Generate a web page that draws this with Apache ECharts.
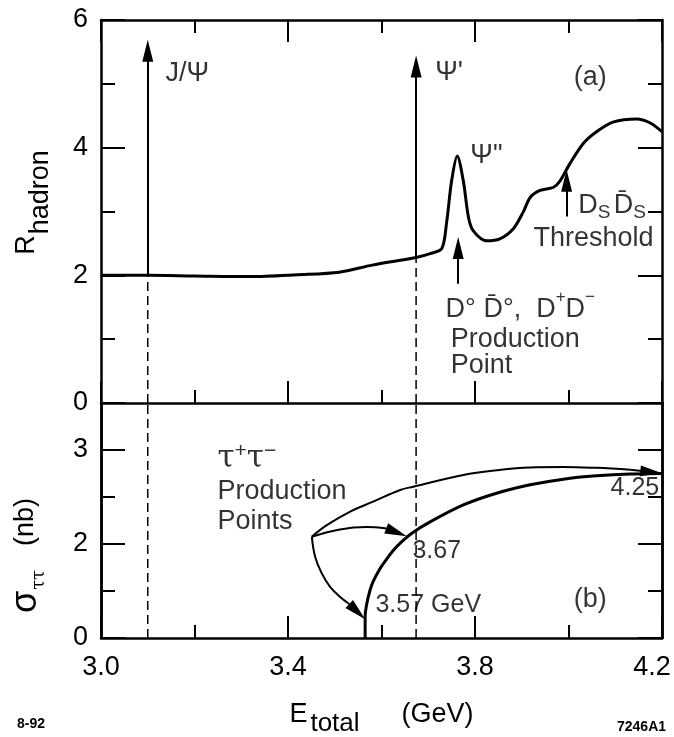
<!DOCTYPE html>
<html>
<head>
<meta charset="UTF-8">
<title>R hadron and tau pair cross section</title>
<script src="https://cdn.jsdelivr.net/npm/echarts@6/dist/echarts.min.js"></script>
</head>
<body style="margin:0;background:#fff">
<div id="chart" style="width:674px;height:737px"></div>
<script>
// panel (a): R_hadron against E_total
var rEnergy = [3.00, 3.10, 3.20, 3.32, 3.42, 3.51, 3.58, 3.674, 3.704, 3.729, 3.739, 3.750, 3.762, 3.775, 3.786, 3.796, 3.825, 3.853, 3.882, 3.903, 3.918, 3.939, 3.968, 3.982, 4.003, 4.032, 4.060, 4.095, 4.146, 4.174, 4.200];
var rValue = [2.00, 2.00, 1.99, 1.98, 2.01, 2.05, 2.16, 2.28, 2.34, 2.42, 2.81, 3.48, 3.87, 3.48, 2.91, 2.70, 2.54, 2.57, 2.73, 2.99, 3.22, 3.33, 3.38, 3.48, 3.75, 4.07, 4.25, 4.40, 4.45, 4.39, 4.25];

// panel (b): tau pair cross section (nb)
var sigmaEnergy = [3.565, 3.565, 3.568, 3.575, 3.582, 3.597, 3.611, 3.625, 3.640, 3.665, 3.704, 3.775, 3.846, 3.918, 3.989, 4.060, 4.132, 4.200];
var sigmaValue = [0.00, 0.45, 0.70, 1.00, 1.20, 1.48, 1.68, 1.86, 2.02, 2.23, 2.47, 2.83, 3.08, 3.26, 3.38, 3.45, 3.49, 3.50];

// curved pointers from the "Production Points" label
var upperArcX = [3.451, 3.483, 3.533, 3.582, 3.640, 3.668, 3.775, 3.846, 3.918, 3.989, 4.060, 4.132];
var upperArcY = [2.155, 2.40, 2.69, 2.90, 3.15, 3.22, 3.47, 3.57, 3.63, 3.64, 3.62, 3.58];
var middleArcX = [3.451, 3.511, 3.568, 3.611];
var middleArcY = [2.155, 2.31, 2.36, 2.33];
var lowerArcX = [3.451, 3.458, 3.472, 3.490, 3.511, 3.529];
var lowerArcY = [2.155, 1.73, 1.38, 1.09, 0.88, 0.74];
// centres of the arrow heads on the three pointers (4.25, 3.67, 3.57 GeV)
var arcHeadX = [4.177, 3.632, 3.548];
var arcHeadY = [3.53, 2.25, 0.56];

// vertical arrows in (a): x, foot, centre of arrow head
var arrowX = [3.100, 3.674, 3.764, 3.996];
var arrowFoot = [2.00, 2.28, 1.87, 2.92];
var arrowHead = [5.52, 5.27, 2.43, 3.48];

// dashed markers: x, height where they leave the curve in (a)
var dashX = [3.100, 3.674];
var dashTopA = [2.00, 2.28];

// tick labels
var xTickValues = [3.0, 3.4, 3.8, 4.2];
var xTickLabels = ['3.0', '3.4', '3.8', '4.2'];
var rTickValues = [0, 2, 4, 6];
var rTickLabels = ['0', '2', '4', '6'];
var sigmaTickValues = [0, 2, 4];
var sigmaTickLabels = ['0', '2', '3'];

// text in the panels
var textA = ['{n|J/Ψ}', "{n|Ψ'}", '{n|(a)}', '{n|Ψ"}', '{n|D° D\u0304°,  D}{sp|+}{n|D}{sp|\u2212}', '{n|Production}', '{n|Point}', '{n|D}{sb|S} {n|D\u0304}{sb|S}', '{n|Threshold}'];
var textAX = [3.137, 3.714, 4.010, 3.789, 3.736, 3.747, 3.747, 4.020, 3.924];
var textAY = [5.16, 5.18, 5.10, 3.87, 1.46, 1.00, 0.58, 3.09, 2.57];
var textB = ['{t|τ}{st|+}{t|τ}{st|\u2212}', '{n|Production}', '{n|Points}', '{m|4.25}', '{m|3.67}', '{m|3.57 GeV}', '{n|(b)}'];
var textBX = [3.248, 3.248, 3.248, 4.089, 3.665, 3.586, 4.010];
var textBY = [3.74, 3.11, 2.47, 3.18, 1.85, 0.70, 0.82];

var ink = '#000';
var FONT = 'Liberation Sans';
var headPath = 'path://M0 0L5.5 22L-5.5 22Z';

function pairs(xs, ys) {
	return xs.map(function(x, i) { return [x, ys[i]]; });
}

function pickLabel(values, labels) {
	return function(v) {
		for(var i = 0; i < values.length; i++) {
			if(Math.abs(values[i] - v) < 1e-6) return labels[i];
		}
		return '';
	};
}

// rich tokens sit on the middle of their line; top padding pushes a token down
function tok(size, lh, pad, family) {
	var s = { fontSize: size, lineHeight: lh, verticalAlign: 'middle', color: ink, fontFamily: family || FONT };
	if(pad) s.padding = pad;
	return s;
}

var annoRich = {
	n: tok(27, 30),
	m: tok(25, 30),
	t: tok(31, 30, [0, 0, 6, 0], 'DejaVu Serif'),
	st: tok(21, 20, [0, 0, 22, 0]),
	sp: tok(17, 18, [0, 0, 24, 0]),
	sb: tok(19, 20, [14, 0, 0, 0])
};

function textSeries(xi, yi, texts, xs, ys) {
	return {
		type: 'scatter', xAxisIndex: xi, yAxisIndex: yi, silent: true,
		symbolSize: 1, itemStyle: { color: 'rgba(0,0,0,0)' },
		label: { show: true, position: 'right', distance: 0, color: ink, rich: annoRich,
			formatter: function(p) { return texts[p.dataIndex]; } },
		data: pairs(xs, ys)
	};
}

function arrowMarks(froms, heads) {
	return {
		silent: true, animation: false,
		symbol: ['none', headPath], symbolSize: 22, symbolKeepAspect: true,
		label: { show: false },
		lineStyle: { color: ink, width: 2, type: 'solid' },
		itemStyle: { color: ink },
		data: froms.map(function(f, i) { return [{ coord: f }, { coord: heads[i] }]; })
	};
}

var tickLine = { color: ink, width: 2 };

function xFrame(grid, pos, labels) {
	return {
		type: 'value', gridIndex: grid, position: pos, min: 3.0, max: 4.2, interval: 0.4,
		axisLine: { show: true, onZero: false, lineStyle: { color: ink, width: 2.5 } },
		axisTick: { show: true, inside: true, length: 22, lineStyle: tickLine },
		minorTick: { show: true, splitNumber: 2, length: 13, lineStyle: tickLine },
		splitLine: { show: false },
		axisLabel: labels ? {
			show: true, fontSize: 27, color: ink, margin: 16,
			formatter: function(v) {
				var s = pickLabel(xTickValues, xTickLabels)(v);
				return s === '4.2' ? '{r|4.2}' : s;
			},
			rich: { r: { fontSize: 27, color: ink, padding: [0, 20, 0, 0] } }
		} : { show: false }
	};
}

function yFrame(grid, pos, max, interval, longTick, labels) {
	return {
		type: 'value', gridIndex: grid, position: pos, min: 0, max: max, interval: interval,
		axisLine: { show: true, onZero: false, lineStyle: { color: ink, width: 2.5 } },
		axisTick: { show: true, inside: true, length: longTick ? 24 : 14, lineStyle: tickLine },
		splitLine: { show: false },
		axisLabel: labels ? { show: true, fontSize: 27, color: ink, margin: 13, formatter: labels } : { show: false }
	};
}

var yTopLeft = yFrame(0, 'left', 6, 2, true, pickLabel(rTickValues, rTickLabels));
yTopLeft.minorTick = { show: true, splitNumber: 2, length: 14, lineStyle: tickLine };
yTopLeft.name = '{r|R}{h|hadron}';
yTopLeft.nameLocation = 'middle';
yTopLeft.nameRotate = 90;
yTopLeft.nameGap = 59;
yTopLeft.nameTextStyle = { color: ink, rich: {
	r: tok(27, 30, [0, 0, 0, 18]),
	h: tok(27, 28, [28, 0, 0, 1])
} };
var yTopRight = yFrame(0, 'right', 6, 2, true, null);
yTopRight.minorTick = { show: true, splitNumber: 2, length: 14, lineStyle: tickLine };

var yBotLeft = yFrame(1, 'left', 5, 2, true, pickLabel(sigmaTickValues, sigmaTickLabels));
yBotLeft.name = '{s|σ}{t|ττ}{n|(nb)}';
yBotLeft.nameLocation = 'middle';
yBotLeft.nameRotate = 90;
yBotLeft.nameGap = 59;
yBotLeft.nameTextStyle = { color: ink, rich: {
	s: tok(36, 32),
	t: tok(18, 20, [27, 24, 0, 1], 'DejaVu Serif'),
	n: tok(27, 32, [0, 70, 0, 0])
} };

var xBottom = xFrame(1, 'bottom', true);
xBottom.name = '{e|E}{s|total}{g|(GeV)}';
xBottom.nameLocation = 'middle';
xBottom.nameGap = 62;
xBottom.nameTextStyle = { color: ink, rich: {
	e: tok(27, 30),
	s: tok(26, 28, [17, 0, 0, 3]),
	g: tok(27, 30, [0, 0, 0, 42])
} };

var series = [{
	type: 'line', xAxisIndex: 0, yAxisIndex: 0, silent: true,
	data: pairs(rEnergy, rValue), smooth: 0.3, symbol: 'none',
	lineStyle: { color: ink, width: 3 },
	markLine: arrowMarks(
		arrowX.map(function(x, i) { return [x, arrowFoot[i]]; }),
		arrowX.map(function(x, i) { return [x, arrowHead[i]]; }))
}, {
	type: 'line', xAxisIndex: 2, yAxisIndex: 2, silent: true,
	data: pairs(sigmaEnergy, sigmaValue), smooth: 0.25, symbol: 'none',
	lineStyle: { color: ink, width: 3 }
}];

[[upperArcX, upperArcY], [middleArcX, middleArcY], [lowerArcX, lowerArcY]].forEach(function(arc, k) {
	var n = arc[0].length - 1;
	series.push({
		type: 'line', xAxisIndex: 2, yAxisIndex: 2, silent: true,
		data: pairs(arc[0], arc[1]), smooth: 0.4, symbol: 'none',
		lineStyle: { color: ink, width: 2 },
		markLine: arrowMarks([[arc[0][n], arc[1][n]]], [[arcHeadX[k], arcHeadY[k]]])
	});
});

dashX.forEach(function(x, i) {
	var dash = { color: ink, width: 1.5, type: [9, 5] };
	series.push({ type: 'line', xAxisIndex: 0, yAxisIndex: 0, silent: true, symbol: 'none',
		data: [[x, 0], [x, dashTopA[i]]], lineStyle: dash });
	series.push({ type: 'line', xAxisIndex: 2, yAxisIndex: 2, silent: true, symbol: 'none',
		data: [[x, 0], [x, 5]], lineStyle: dash });
});

series.push(textSeries(0, 0, textA, textAX, textAY));
series.push(textSeries(2, 2, textB, textBX, textBY));

var chart = echarts.init(document.getElementById('chart'));
chart.setOption({
	animation: false,
	backgroundColor: '#fff',
	textStyle: { fontFamily: FONT, color: ink },
	grid: [
		{ left: 101, right: 12, top: 20, height: 383, outerBoundsMode: 'none' },
		{ left: 101, right: 12, top: 403, height: 235, outerBoundsMode: 'none' }
	],
	xAxis: [xFrame(0, 'bottom', false), xFrame(0, 'top', false), xBottom],
	yAxis: [
		yTopLeft, yTopRight,
		yBotLeft, yFrame(1, 'left', 5, 1, false, null),
		yFrame(1, 'right', 5, 2, true, null), yFrame(1, 'right', 5, 1, false, null)
	],
	graphic: [
		{ type: 'text', left: 17, top: 717, style: { text: '8-92', fontSize: 14, fontWeight: 'bold', fontFamily: FONT, fill: ink } },
		{ type: 'text', left: 617, top: 720, style: { text: '7246A1', fontSize: 14, fontWeight: 'bold', fontFamily: FONT, fill: ink } }
	],
	series: series
});
</script>
</body>
</html>
